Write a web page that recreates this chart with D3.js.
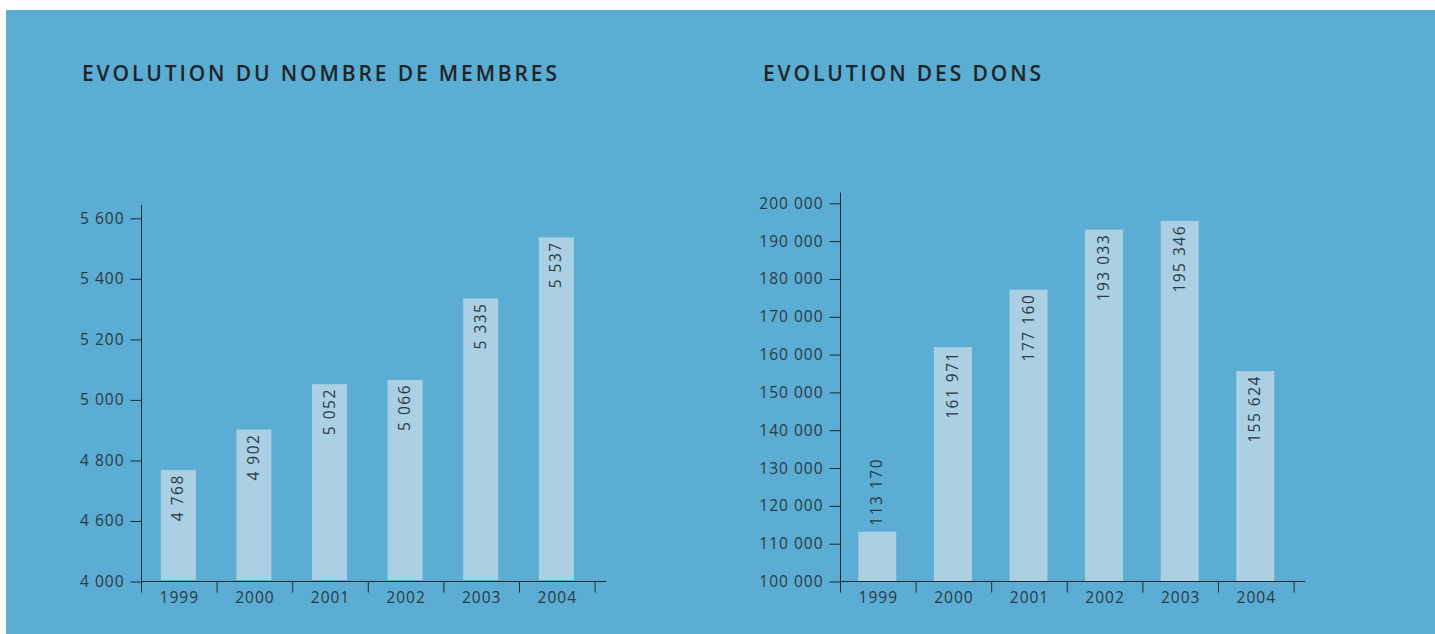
<!DOCTYPE html>
<html>
<head>
<meta charset="utf-8">
<script src="https://cdn.jsdelivr.net/npm/d3@7"></script>
<style>
  body { margin: 0; background: #fff; }
  svg { display: block; }
  text { font-family: "Open Sans", "Noto Sans", sans-serif; }
</style>
</head>
<body>
<div id="chart"></div>
<script>
// Data
var years = ["1999", "2000", "2001", "2002", "2003", "2004"];
var membres = [4768, 4902, 5052, 5066, 5335, 5537];
var dons = [113170, 161971, 177160, 193033, 195346, 155624];
var membresTicks = [4000, 4600, 4800, 5000, 5200, 5400, 5600];
var donsTicks = [100000, 110000, 120000, 130000, 140000, 150000, 160000, 170000, 180000, 190000, 200000];
var titles = ["EVOLUTION DU NOMBRE DE MEMBRES", "EVOLUTION DES DONS"];

var W = 1435, H = 634;
var bg = "#5badd3", barColor = "#abd0e3", ink = "#2a3a45";

// French style thousands: "5 600"
var fmt = function (v) { return d3.format(",")(v).replace(/,/g, " "); };

var svg = d3.select("#chart")
  .append("svg")
  .attr("width", W)
  .attr("height", H);

// blue panel
svg.append("rect")
  .attr("x", 6).attr("y", 10)
  .attr("width", W - 6).attr("height", H - 10)
  .attr("fill", bg);

function drawChart(opt) {
  var g = svg.append("g");

  // title
  g.append("text")
    .attr("x", opt.titleX)
    .attr("y", 81)
    .attr("textLength", opt.titleLen)
    .attr("lengthAdjust", "spacing")
    .style("font-size", "21px")
    .style("font-weight", 600)
    .attr("fill", "#1f2428")
    .text(opt.title);

  var x = d3.scaleBand()
    .domain(years)
    .range([opt.x0, opt.x0 + 75.6 * years.length]);

  var y = opt.y;

  // bars
  g.selectAll(".bar")
    .data(opt.values)
    .enter()
    .append("rect")
    .attr("x", function (d, i) { return x(years[i]) + (x.bandwidth() - opt.barW) / 2 - 1; })
    .attr("width", opt.barW)
    .attr("y", function (d) { return y(d); })
    .attr("height", function (d) { return opt.yBottom - opt.barGap - y(d); })
    .attr("fill", barColor);

  // value labels (rotated)
  g.selectAll(".val")
    .data(opt.values)
    .enter()
    .append("text")
    .attr("transform", function (d, i) {
      var cx = x(years[i]) + x.bandwidth() / 2 + 4;
      var inside = opt.yBottom - y(d) > 80;
      var ty = inside ? y(d) + 4 : y(d) - 6;
      return "translate(" + cx + "," + ty + ") rotate(-90)";
    })
    .attr("text-anchor", function (d) { return opt.yBottom - y(d) > 80 ? "end" : "start"; })
    .style("font-size", "15.5px")
    .style("letter-spacing", "1.5px")
    .attr("fill", ink)
    .text(function (d) { return fmt(d); });

  // y axis
  var yAxis = g.append("g")
    .attr("transform", "translate(" + opt.x0 + ",0)")
    .call(d3.axisLeft(y).tickValues(opt.ticks).tickFormat(fmt).tickSize(11).tickPadding(6));
  yAxis.select(".domain")
    .attr("d", "M0," + opt.yTop + "V" + (opt.yBottom + 11))
    .attr("stroke", "#1d2a33");
  yAxis.selectAll(".tick line").attr("stroke", "#1d2a33");
  yAxis.selectAll(".tick text")
    .style("font-size", "15.5px")
    .style("letter-spacing", "1px")
    .style("font-family", "'Open Sans', sans-serif")
    .attr("fill", ink);

  // x axis
  var xEnd = opt.x0 + 75.6 * years.length + 11;
  var xa = g.append("g").attr("transform", "translate(0," + opt.yBottom + ")");
  xa.append("path")
    .attr("d", "M" + opt.x0 + ",0H" + xEnd)
    .attr("stroke", "#1d2a33")
    .attr("fill", "none");
  xa.selectAll(".xt")
    .data(years)
    .enter()
    .append("line")
    .attr("x1", function (d) { return x(d) + x.bandwidth(); })
    .attr("x2", function (d) { return x(d) + x.bandwidth(); })
    .attr("y1", 0).attr("y2", 11)
    .attr("stroke", "#1d2a33");
  xa.selectAll(".xl")
    .data(years)
    .enter()
    .append("text")
    .attr("x", function (d) { return x(d) + x.bandwidth() / 2; })
    .attr("y", 21)
    .attr("text-anchor", "middle")
    .style("font-size", "15.5px")
    .style("letter-spacing", "1px")
    .attr("fill", ink)
    .text(function (d) { return d; });
}

// left: broken axis, 4 000 then jump to 4 600
var yLeft = d3.scaleLinear()
  .domain([4000, 4600, 5600])
  .range([581.5, 521, 218.3]);

drawChart({
  title: titles[0], titleX: 82, titleLen: 475,
  x0: 141.5, y: yLeft, ticks: membresTicks, values: membres,
  yTop: 205, yBottom: 581.5, barW: 35, barGap: 1.5
});

var yRight = d3.scaleLinear()
  .domain([100000, 200000])
  .range([581.5, 203.3]);

drawChart({
  title: titles[1], titleX: 763, titleLen: 278,
  x0: 840.5, y: yRight, ticks: donsTicks, values: dons,
  yTop: 192.5, yBottom: 581.5, barW: 38, barGap: 0
});
</script>
</body>
</html>
